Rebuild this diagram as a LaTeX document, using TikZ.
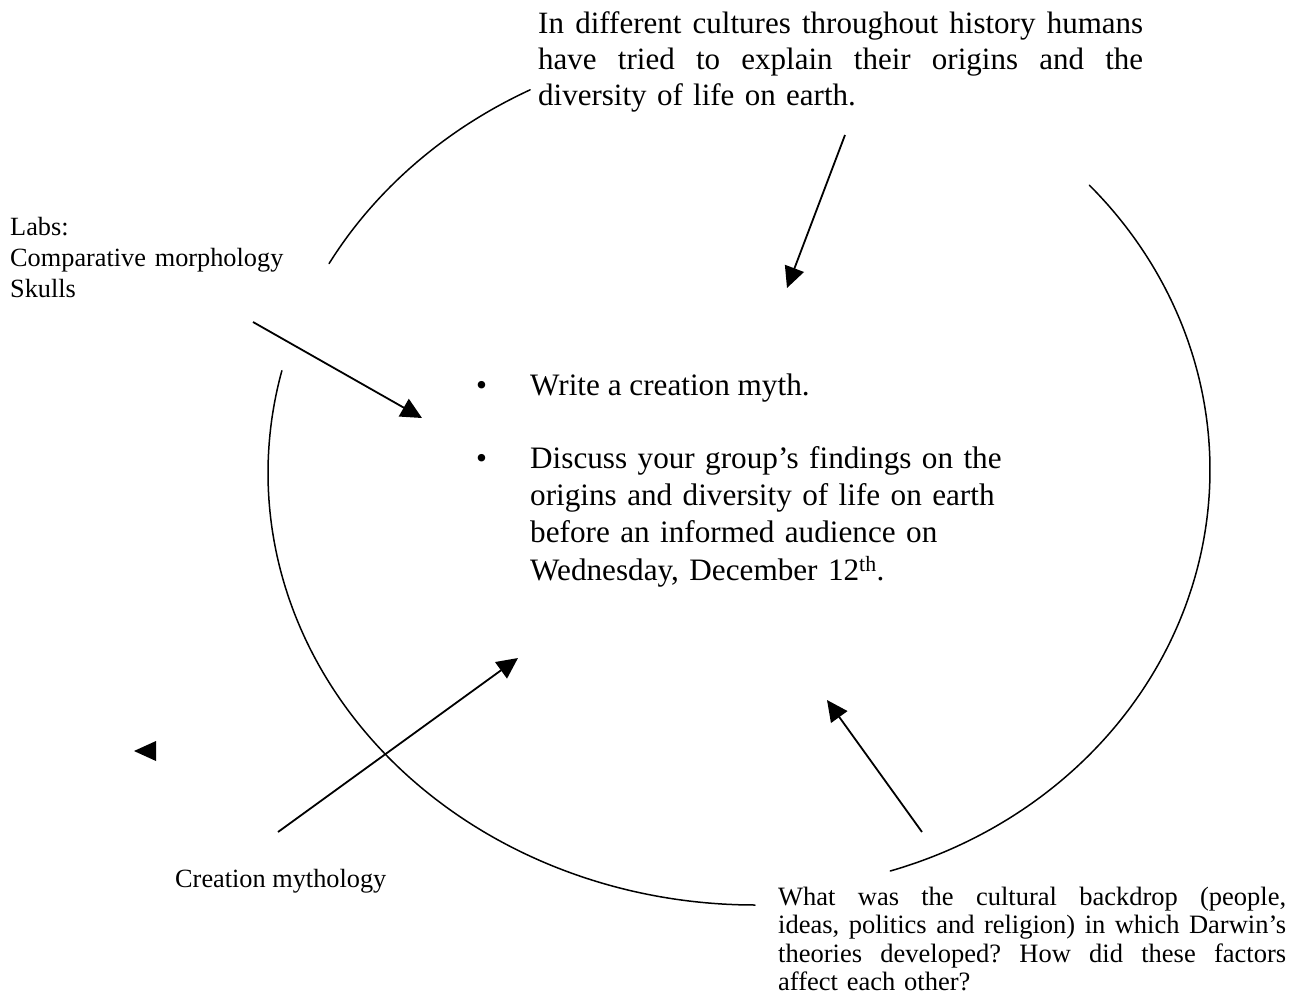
\documentclass[tikz,border=0pt]{standalone}
\usepackage{fontspec}
\setmainfont{Liberation Serif}
\usetikzlibrary{arrows.meta}
\newcommand\jline[2]{\makebox[#1][s]{\spaceskip=0pt\xspaceskip=0pt\relax #2}}
\tikzset{
  arcline/.style={line width=1.5pt, line cap=round},
  conn/.style={line width=1.8pt, -{Triangle[length=21pt,width=20pt]}},
  topfont/.style={inner sep=0pt, font=\frenchspacing\fontsize{31}{36}\selectfont},
  big/.style={inner sep=0pt, font=\frenchspacing\fontsize{31.2}{37.4}\selectfont},
  mid/.style={inner sep=0pt, font=\frenchspacing\fontsize{26.3}{31}\selectfont},
  qfont/.style={inner sep=0pt, font=\frenchspacing\fontsize{26.5}{28.5}\selectfont},
}
\begin{document}
\begin{tikzpicture}[x=1pt,y=-1pt]
\useasboundingbox (0,0) rectangle (1291,1005);
\fill[white] (0,0) rectangle (1291,1005);

% arcs of the cycle
\draw[arcline] plot[domain=90:193.7, samples=160] ({755+487*cos(\x)},{473+432*sin(\x)});
\draw[arcline] plot[domain=209:242.5, samples=60] ({755+487*cos(\x)},{473+432*sin(\x)});
\draw[arcline] plot[domain=-42.7:72.7, samples=160] ({755+455*cos(\x)},{470+420*sin(\x)});

% texts
\node[topfont, anchor=base west, text width=605pt] (top) at (538,33)
 {\jline{605pt}{In different cultures throughout history humans}\\
  \jline{605pt}{have tried to explain their origins and the}\\
  diversity of life on earth.};

\node[big, anchor=base west] (b1) at (476,395) {•};
\node[big, anchor=base west] (t1) at (530,395) {Write a creation myth.};
\node[big, anchor=base west] (b2) at (476,468) {•};
\node[big, anchor=base west, text width=520pt, align=left] (t2) at (530,468)
 {Discuss your group’s findings on the\\
  origins and diversity of life on earth\\
  before an informed audience on\\
  Wednesday, December 12\textsuperscript{th}.};

\node[mid, anchor=base west, text width=320pt, align=left] (labs) at (10,235)
 {Labs:\\Comparative morphology\\Skulls};

\node[mid, anchor=base west] (cm) at (175,887) {Creation mythology};

\node[qfont, anchor=base west, text width=508pt] (q) at (778,905)
 {\jline{508pt}{What was the cultural backdrop (people,}\\
  \jline{508pt}{ideas, politics and religion) in which Darwin’s}\\
  \jline{508pt}{theories developed? How did these factors}\\
  affect each other?};

% connector ends
\coordinate (a1s) at (845,135);
\coordinate (a1e) at (787,288);
\coordinate (a2s) at (253,322);
\coordinate (a2e) at (422,418);
\coordinate (a3s) at (278,832);
\coordinate (a3e) at (518,658);
\coordinate (a4s) at (922,832);
\coordinate (a4e) at (827,700);

\draw[conn] (a1s) -- (a1e);
\draw[conn] (a2s) -- (a2e);
\draw[conn] (a3s) -- (a3e);
\draw[conn] (a4s) -- (a4e);

% lone arrowhead
\coordinate (tip) at (134,751);
\fill (tip) -- (156,741) -- (156,761) -- cycle;
\end{tikzpicture}
\end{document}
